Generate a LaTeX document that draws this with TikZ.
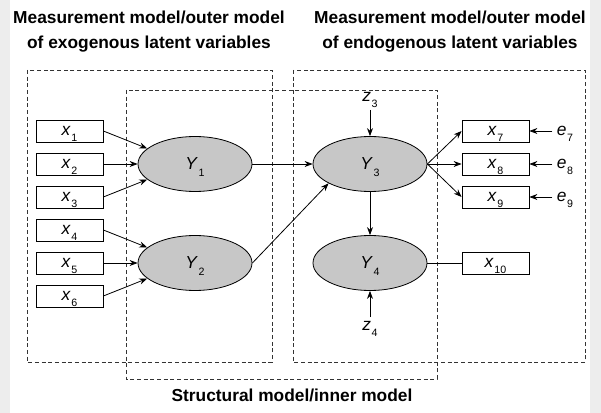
\documentclass[tikz,border=0pt]{standalone}
\usepackage{fontspec}
\setmainfont{Liberation Sans}
\usetikzlibrary{arrows.meta}
\usetikzlibrary{shapes.geometric}

\newcommand{\lv}[2]{\textit{#1}\kern0.5pt\raisebox{-0.7ex}[0pt][0pt]{\fontsize{8}{8}\selectfont #2}}

\begin{document}
\begin{tikzpicture}[x=0.75pt,y=-0.75pt,line width=0.6pt,
    latent/.style={shape=ellipse,draw=black,fill=black!22,minimum width=85.5pt,minimum height=41.25pt,inner sep=0pt,font=\fontsize{13}{15}\selectfont},
    manifest/.style={shape=rectangle,draw=black,minimum width=50.25pt,minimum height=16.5pt,inner sep=0pt,font=\fontsize{13}{15}\selectfont},
    errlbl/.style={inner sep=3pt,font=\fontsize{13}{15}\selectfont},
    region/.style={draw=black!80,dash pattern=on 3pt off 2pt},
    heading/.style={align=center,font=\bfseries\fontsize{13}{18.75}\selectfont},
    >={Stealth[length=6pt,width=4.5pt]}]
    % page
    \fill[black!7] (0,0) rectangle (601,413);
    \fill[white] (10,0) rectangle (590,413);
    \useasboundingbox (0,0) rectangle (601,413);
    % regions
    \draw[region] (27,70) rectangle (272,362);
    \draw[region] (293,70) rectangle (585,362);
    \draw[region] (126,90) rectangle (437,379);
    \node[heading] (exotitle) at (149,32) {Measurement model/outer model\\of exogenous latent variables};
    \node[heading] (endotitle) at (450,32) {Measurement model/outer model\\of endogenous latent variables};
    \node[heading] (innertitle) at (292,395) {Structural model/inner model};
    % indicators
    \node[manifest] (X1) at (69.5,131) {\lv{x}{1}};
    \node[manifest] (X2) at (69.5,164) {\lv{x}{2}};
    \node[manifest] (X3) at (69.5,197) {\lv{x}{3}};
    \node[manifest] (X4) at (69.5,230) {\lv{x}{4}};
    \node[manifest] (X5) at (69.5,263) {\lv{x}{5}};
    \node[manifest] (X6) at (69.5,296) {\lv{x}{6}};
    \node[manifest] (X7) at (495.5,131) {\lv{x}{7}};
    \node[manifest] (X8) at (495.5,164) {\lv{x}{8}};
    \node[manifest] (X9) at (495.5,197) {\lv{x}{9}};
    \node[manifest] (X10) at (495.5,263) {\lv{x}{10}};
    % latent variables
    \node[latent] (Y1) at (195,164) {\lv{Y}{1}};
    \node[latent] (Y2) at (195,263) {\lv{Y}{2}};
    \node[latent] (Y3) at (370,164) {\lv{Y}{3}};
    \node[latent] (Y4) at (370,263) {\lv{Y}{4}};
    % error terms
    \node[errlbl] (Z3) at (370,97) {\lv{z}{3}};
    \node[errlbl] (Z4) at (370,326) {\lv{z}{4}};
    \node[errlbl] (E7) at (565,131) {\lv{e}{7}};
    \node[errlbl] (E8) at (565,164) {\lv{e}{8}};
    \node[errlbl] (E9) at (565,197) {\lv{e}{9}};
     \path [->] (X1.east) edge (Y1.162);
     \path [->] (X2.east) edge (Y1.west);
     \path [->] (X3.east) edge (Y1.198);
     \path [->] (X4.east) edge (Y2.162);
     \path [->] (X5.east) edge (Y2.west);
     \path [->] (X6.east) edge (Y2.198);
     \path [->] (Y1) edge (Y3);
     \path [->] (Y2.east) edge (Y3.205);
     \path [->] (Y3) edge (Y4);
     \path [->] (Y3.east) edge (X7.west);
     \path [->] (Y3.east) edge (X8.west);
     \path [->] (Y3.east) edge (X9.west);
     \path [-] (Y4) edge (X10);
     \path [->,shorten <=3pt] (Z3.south) edge (Y3.north);
     \path [->] (Z4) edge (Y4);
     \path [->] (E7) edge (X7);
     \path [->] (E8) edge (X8);
     \path [->] (E9) edge (X9);
\end{tikzpicture}
\end{document}
